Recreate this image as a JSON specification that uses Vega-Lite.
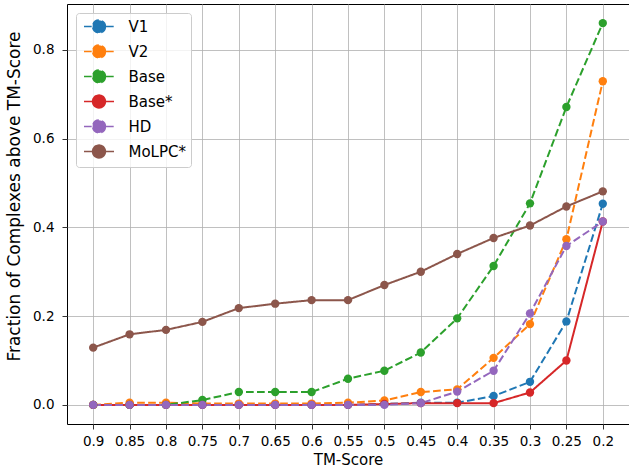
{
  "$schema": "https://vega.github.io/schema/vega-lite/v6.json",
  "width": 562,
  "height": 420,
  "autosize": "none",
  "padding": {"left": 67, "top": 4, "right": 0, "bottom": 45},
  "background": "white",
  "data": {
    "values": [
      {"series": "V1", "tm": 0.9, "frac": 0}, {"series": "V1", "tm": 0.85, "frac": 0}, {"series": "V1", "tm": 0.8, "frac": 0}, {"series": "V1", "tm": 0.75, "frac": 0}, {"series": "V1", "tm": 0.7, "frac": 0}, {"series": "V1", "tm": 0.65, "frac": 0}, {"series": "V1", "tm": 0.6, "frac": 0}, {"series": "V1", "tm": 0.55, "frac": 0}, {"series": "V1", "tm": 0.5, "frac": 0.002}, {"series": "V1", "tm": 0.45, "frac": 0.005}, {"series": "V1", "tm": 0.4, "frac": 0.005}, {"series": "V1", "tm": 0.35, "frac": 0.02}, {"series": "V1", "tm": 0.3, "frac": 0.052}, {"series": "V1", "tm": 0.25, "frac": 0.188}, {"series": "V1", "tm": 0.2, "frac": 0.453},
      {"series": "V2", "tm": 0.9, "frac": 0}, {"series": "V2", "tm": 0.85, "frac": 0.005}, {"series": "V2", "tm": 0.8, "frac": 0.005}, {"series": "V2", "tm": 0.75, "frac": 0.003}, {"series": "V2", "tm": 0.7, "frac": 0.003}, {"series": "V2", "tm": 0.65, "frac": 0.003}, {"series": "V2", "tm": 0.6, "frac": 0.003}, {"series": "V2", "tm": 0.55, "frac": 0.005}, {"series": "V2", "tm": 0.5, "frac": 0.01}, {"series": "V2", "tm": 0.45, "frac": 0.029}, {"series": "V2", "tm": 0.4, "frac": 0.035}, {"series": "V2", "tm": 0.35, "frac": 0.106}, {"series": "V2", "tm": 0.3, "frac": 0.182}, {"series": "V2", "tm": 0.25, "frac": 0.373}, {"series": "V2", "tm": 0.2, "frac": 0.729},
      {"series": "Base", "tm": 0.9, "frac": 0}, {"series": "Base", "tm": 0.85, "frac": 0}, {"series": "Base", "tm": 0.8, "frac": 0}, {"series": "Base", "tm": 0.75, "frac": 0.011}, {"series": "Base", "tm": 0.7, "frac": 0.029}, {"series": "Base", "tm": 0.65, "frac": 0.029}, {"series": "Base", "tm": 0.6, "frac": 0.029}, {"series": "Base", "tm": 0.55, "frac": 0.059}, {"series": "Base", "tm": 0.5, "frac": 0.077}, {"series": "Base", "tm": 0.45, "frac": 0.118}, {"series": "Base", "tm": 0.4, "frac": 0.195}, {"series": "Base", "tm": 0.35, "frac": 0.313}, {"series": "Base", "tm": 0.3, "frac": 0.454}, {"series": "Base", "tm": 0.25, "frac": 0.671}, {"series": "Base", "tm": 0.2, "frac": 0.86},
      {"series": "Base*", "tm": 0.9, "frac": 0}, {"series": "Base*", "tm": 0.85, "frac": 0}, {"series": "Base*", "tm": 0.8, "frac": 0}, {"series": "Base*", "tm": 0.75, "frac": 0}, {"series": "Base*", "tm": 0.7, "frac": 0}, {"series": "Base*", "tm": 0.65, "frac": 0}, {"series": "Base*", "tm": 0.6, "frac": 0}, {"series": "Base*", "tm": 0.55, "frac": 0}, {"series": "Base*", "tm": 0.5, "frac": 0.002}, {"series": "Base*", "tm": 0.45, "frac": 0.004}, {"series": "Base*", "tm": 0.4, "frac": 0.004}, {"series": "Base*", "tm": 0.35, "frac": 0.004}, {"series": "Base*", "tm": 0.3, "frac": 0.028}, {"series": "Base*", "tm": 0.25, "frac": 0.1}, {"series": "Base*", "tm": 0.2, "frac": 0.413},
      {"series": "HD", "tm": 0.9, "frac": 0}, {"series": "HD", "tm": 0.85, "frac": 0}, {"series": "HD", "tm": 0.8, "frac": 0}, {"series": "HD", "tm": 0.75, "frac": 0}, {"series": "HD", "tm": 0.7, "frac": 0}, {"series": "HD", "tm": 0.65, "frac": 0}, {"series": "HD", "tm": 0.6, "frac": 0}, {"series": "HD", "tm": 0.55, "frac": 0}, {"series": "HD", "tm": 0.5, "frac": 0}, {"series": "HD", "tm": 0.45, "frac": 0.004}, {"series": "HD", "tm": 0.4, "frac": 0.03}, {"series": "HD", "tm": 0.35, "frac": 0.077}, {"series": "HD", "tm": 0.3, "frac": 0.206}, {"series": "HD", "tm": 0.25, "frac": 0.358}, {"series": "HD", "tm": 0.2, "frac": 0.413},
      {"series": "MoLPC*", "tm": 0.9, "frac": 0.129}, {"series": "MoLPC*", "tm": 0.85, "frac": 0.159}, {"series": "MoLPC*", "tm": 0.8, "frac": 0.169}, {"series": "MoLPC*", "tm": 0.75, "frac": 0.187}, {"series": "MoLPC*", "tm": 0.7, "frac": 0.218}, {"series": "MoLPC*", "tm": 0.65, "frac": 0.228}, {"series": "MoLPC*", "tm": 0.6, "frac": 0.236}, {"series": "MoLPC*", "tm": 0.55, "frac": 0.236}, {"series": "MoLPC*", "tm": 0.5, "frac": 0.27}, {"series": "MoLPC*", "tm": 0.45, "frac": 0.3}, {"series": "MoLPC*", "tm": 0.4, "frac": 0.34}, {"series": "MoLPC*", "tm": 0.35, "frac": 0.376}, {"series": "MoLPC*", "tm": 0.3, "frac": 0.404}, {"series": "MoLPC*", "tm": 0.25, "frac": 0.447}, {"series": "MoLPC*", "tm": 0.2, "frac": 0.481}
    ]
  },
  "encoding": {
    "x": {
      "field": "tm", "type": "quantitative",
      "scale": {"domain": [0.164, 0.936], "reverse": true, "nice": false, "zero": false},
      "axis": {"title": "TM-Score", "values": [0.9, 0.85, 0.8, 0.75, 0.7, 0.65, 0.6, 0.55, 0.5, 0.45, 0.4, 0.35, 0.3, 0.25, 0.2], "format": "~g", "labelPadding": 5, "titlePadding": 5, "titleFontSize": 15}
    },
    "y": {
      "field": "frac", "type": "quantitative",
      "scale": {"domain": [-0.043, 0.903], "nice": false, "zero": false},
      "axis": {"title": "Fraction of Complexes above TM-Score", "values": [0, 0.2, 0.4, 0.6, 0.8], "format": ".1f", "labelPadding": 8, "titlePadding": 9, "titleY": 192, "titleFontSize": 17}
    },
    "color": {
      "field": "series", "type": "nominal",
      "scale": {"domain": ["V1", "V2", "Base", "Base*", "HD", "MoLPC*"], "range": ["#1f77b4", "#ff7f0e", "#2ca02c", "#d62728", "#9467bd", "#8c564b"]},
      "legend": {
        "title": null,
        "symbolType": "M-2,0L2,0M0.85,0A0.85,0.85,0,1,1,-0.85,0A0.85,0.85,0,1,1,0.85,0Z",
        "encode": {"symbols": {"update": {"fill": {"scale": "color", "field": "value"}, "stroke": {"scale": "color", "field": "value"}}}}
      }
    }
  },
  "layer": [
    {
      "mark": {"type": "line", "strokeWidth": 2},
      "encoding": {
        "strokeDash": {
          "field": "series", "type": "nominal",
          "scale": {"domain": ["V1", "V2", "Base", "Base*", "HD", "MoLPC*"], "range": [[7.7, 3.3], [7.7, 3.3], [7.7, 3.3], [1, 0], [7.7, 3.3], [1, 0]]},
          "legend": {
            "title": null,
            "symbolType": "M-2,0L2,0M0.85,0A0.85,0.85,0,1,1,-0.85,0A0.85,0.85,0,1,1,0.85,0Z"
          }
        }
      }
    },
    {
      "mark": {"type": "point", "filled": true, "size": 70, "opacity": 1}
    }
  ],
  "config": {
    "view": {"stroke": "black", "strokeWidth": 1},
    "font": "DejaVu Sans",
    "axis": {
      "grid": true, "gridColor": "#b0b0b0", "gridWidth": 0.8, "gridOpacity": 1,
      "domain": false,
      "tickColor": "black", "tickSize": 5, "tickWidth": 0.8,
      "labelFont": "DejaVu Sans", "labelFontSize": 13.5, "labelColor": "black",
      "titleFont": "DejaVu Sans", "titleFontWeight": "normal", "titleColor": "black"
    },
    "legend": {
      "orient": "top-left", "offset": 9, "padding": 5,
      "strokeColor": "#cccccc", "fillColor": "rgba(255,255,255,0.8)", "cornerRadius": 3,
      "labelFont": "DejaVu Sans", "labelFontSize": 15, "labelColor": "black",
      "symbolSize": 225, "symbolStrokeWidth": 1.6, "rowPadding": 4, "labelOffset": 21, "symbolOffset": 9.5
    }
  }
}
